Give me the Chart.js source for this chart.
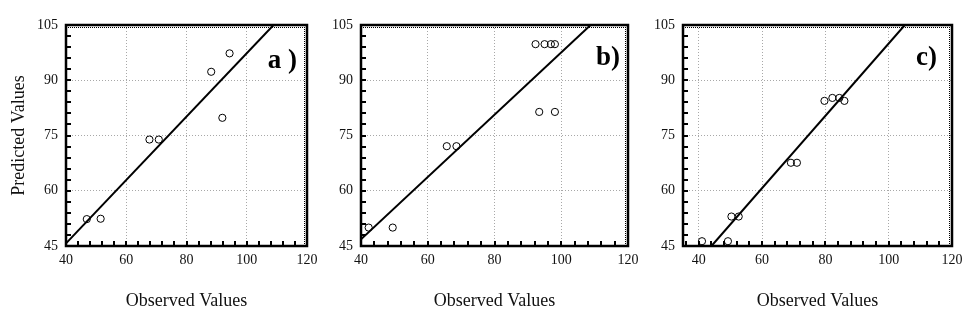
<!DOCTYPE html>
<html>
<head>
<meta charset="utf-8">
<script src="https://cdn.jsdelivr.net/npm/chart.js@4/dist/chart.umd.min.js"></script>
<style>
  html, body { margin: 0; padding: 0; background: #fff; }
  #wrap { position: relative; width: 977px; height: 323px; overflow: hidden; }
  #wrap canvas { position: absolute; left: 0; top: 0; }
</style>
</head>
<body>
<div id="wrap">
  <canvas id="panelA" width="977" height="323"></canvas>
  <canvas id="panelB" width="977" height="323"></canvas>
  <canvas id="panelC" width="977" height="323"></canvas>
</div>
<script>
// ---- data ----------------------------------------------------------------
const yTicks = [45, 60, 75, 90, 105];
const xTicks = [40, 60, 80, 100, 120];

// panel a
const observedA  = [46.9, 51.5, 67.7, 70.8, 88.2, 94.3, 91.9];
const predictedA = [52.3, 52.4, 73.9, 73.9, 92.3, 97.3, 79.8];
const fitXA = [40, 108.9];
const fitYA = [45.7, 105];

// panel b
const observedB  = [42.3, 49.5, 65.7, 68.6, 92.3, 95.0, 96.9, 98.1, 93.4, 98.1];
const predictedB = [50.0, 50.0, 72.1, 72.1, 99.8, 99.8, 99.8, 99.8, 81.4, 81.4];
const fitXB = [40, 108.8];
const fitYB = [46.8, 105];

// panel c
const observedC  = [41.0, 49.2, 50.3, 52.6, 69.1, 71.0, 79.7, 82.2, 84.4, 86.0];
const predictedC = [46.3, 46.3, 53.0, 53.0, 67.6, 67.6, 84.4, 85.2, 85.2, 84.4];
const fitXC = [44.0, 105.1];
const fitYC = [45, 105];

// ---- drawing helpers -----------------------------------------------------
const SERIF = "'Liberation Serif', 'Times New Roman', serif";
const INK = '#111';

function pairs(xs, ys) { return xs.map((x, i) => ({ x: x, y: ys[i] })); }

// Heavy frame with inward minor ticks, plus the bold panel letter.
const framePlugin = {
  id: 'frame',
  afterDraw(chart, args, opts) {
    const { ctx, chartArea: a, scales } = chart;
    const xs = scales.x, ys = scales.y;
    ctx.save();
    ctx.strokeStyle = '#000';
    // minor ticks, left and bottom
    ctx.lineWidth = 2;
    ctx.beginPath();
    for (let v = ys.min; v <= ys.max; v += 3) {
      const p = Math.round(ys.getPixelForValue(v));
      ctx.moveTo(a.left, p); ctx.lineTo(a.left + 5, p);
    }
    for (let v = Math.ceil(xs.min / 4) * 4; v <= xs.max; v += 4) {
      const p = Math.round(xs.getPixelForValue(v));
      ctx.moveTo(p, a.bottom); ctx.lineTo(p, a.bottom - 5);
    }
    ctx.stroke();
    // fine ticks along top and right
    ctx.lineWidth = 1;
    ctx.setLineDash([1, 1]);
    ctx.beginPath();
    ctx.moveTo(a.left, a.top + 2.5); ctx.lineTo(a.right, a.top + 2.5);
    ctx.moveTo(a.right - 2.5, a.top); ctx.lineTo(a.right - 2.5, a.bottom);
    ctx.stroke();
    ctx.setLineDash([]);
    // frame
    ctx.lineWidth = 2.5;
    ctx.strokeRect(a.left, a.top, a.right - a.left, a.bottom - a.top);
    // panel letter
    ctx.fillStyle = '#000';
    ctx.font = 'bold 27px ' + SERIF;
    ctx.textAlign = 'right';
    ctx.textBaseline = 'middle';
    ctx.fillText(opts.label, a.right - opts.dx, a.top + opts.dy);
    ctx.restore();
  }
};

function makePanel(id, cfg) {
  return new Chart(document.getElementById(id), {
    type: 'scatter',
    data: {
      datasets: [
        {
          type: 'line',
          data: pairs(cfg.fitX, cfg.fitY),
          borderColor: '#000',
          borderWidth: 2,
          pointRadius: 0,
          fill: false,
          tension: 0
        },
        {
          data: pairs(cfg.obs, cfg.pred),
          pointStyle: 'circle',
          pointRadius: 3.6,
          pointBorderWidth: 1,
          pointBorderColor: '#000',
          pointBackgroundColor: 'rgba(0,0,0,0)'
        }
      ]
    },
    plugins: [framePlugin],
    options: {
      responsive: false,
      animation: false,
      events: [],
      layout: { padding: { left: cfg.padLeft, right: cfg.padRight, top: 25, bottom: 0 } },
      plugins: {
        legend: { display: false },
        tooltip: { enabled: false },
        frame: { label: cfg.label, dx: cfg.labelDx, dy: cfg.labelDy }
      },
      scales: {
        x: {
          type: 'linear',
          min: cfg.xMin,
          max: 120,
          afterBuildTicks: s => { s.ticks = xTicks.map(v => ({ value: v })); },
          afterFit: s => { s.height = 77; },
          grid: { color: '#a8a8a8', lineWidth: 1, drawTicks: false },
          border: { display: false, dash: [1, 2] },
          ticks: { font: { family: SERIF, size: 14 }, color: INK, padding: 6, maxRotation: 0 },
          title: {
            display: true,
            text: 'Observed Values',
            font: { family: SERIF, size: 18 },
            color: INK,
            padding: { top: 0, bottom: 11 }
          }
        },
        y: {
          type: 'linear',
          min: 45,
          max: 105,
          afterBuildTicks: s => { s.ticks = yTicks.map(v => ({ value: v })); },
          afterFit: s => { s.width = cfg.yWidth; },
          grid: { color: '#a8a8a8', lineWidth: 1, drawTicks: false },
          border: { display: false, dash: [1, 2] },
          ticks: { font: { family: SERIF, size: 14 }, color: INK, padding: 8 },
          title: {
            display: cfg.yTitle,
            text: 'Predicted Values',
            font: { family: SERIF, size: 18 },
            color: INK,
            padding: { top: 8, bottom: 0 }
          }
        }
      }
    }
  });
}

makePanel('panelA', {
  obs: observedA, pred: predictedA, fitX: fitXA, fitY: fitYA,
  xMin: 40, padLeft: 0, padRight: 670, yWidth: 66, yTitle: true,
  label: 'a )', labelDx: 10, labelDy: 36
});
makePanel('panelB', {
  obs: observedB, pred: predictedB, fitX: fitXB, fitY: fitYB,
  xMin: 40, padLeft: 316, padRight: 349, yWidth: 45, yTitle: false,
  label: 'b)', labelDx: 8, labelDy: 33
});
makePanel('panelC', {
  obs: observedC, pred: predictedC, fitX: fitXC, fitY: fitYC,
  xMin: 35, padLeft: 638, padRight: 25, yWidth: 45, yTitle: false,
  label: 'c)', labelDx: 15, labelDy: 33
});
</script>
</body>
</html>
